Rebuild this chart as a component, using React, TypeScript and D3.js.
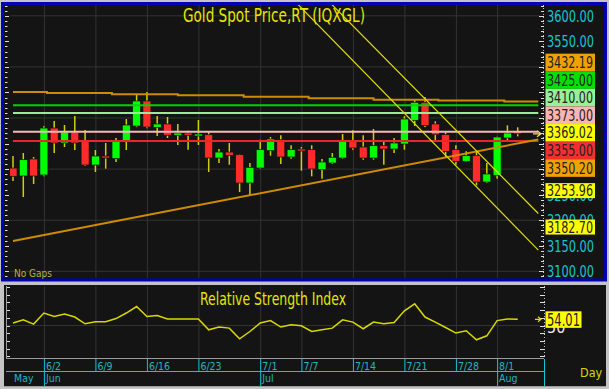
import React, { useEffect, useRef } from 'react';
import * as d3 from 'd3';

// trading days shown on the chart
const dates = [
  "5/28","5/29","5/30",
  "6/2","6/3","6/4","6/5","6/6",
  "6/9","6/10","6/11","6/12","6/13",
  "6/16","6/17","6/18","6/19","6/20",
  "6/23","6/24","6/25","6/26","6/27",
  "6/30","7/1","7/2","7/3","7/4",
  "7/7","7/8","7/9","7/10","7/11",
  "7/14","7/15","7/16","7/17","7/18",
  "7/21","7/22","7/23","7/24","7/25",
  "7/28","7/29","7/30","7/31","8/1",
  "8/4","8/5"
];

const opens = [3302.1,3286.5,3319.8,3288.5,3380.4,3351.1,3372.6,3355.0,3308.0,3325.6,
  3320.4,3355.0,3384.3,3433.3,3381.8,3388.3,3366.2,3370.6,3366.2,3367.3,
  3321.7,3333.4,3328.2,3272.8,3302.1,3336.0,3357.5,3323.7,3339.3,3338.0,
  3298.8,3311.9,3321.7,3355.6,3343.3,3321.7,3345.8,3339.3,3349.1,3395.5,
  3430.7,3388.3,3367.3,3338.0,3315.3,3326.2,3274.7,3287.9,3360.9,3373.2];
const highs = [3325.6,3331.5,3323.7,3383.8,3394.1,3386.3,3403.9,3376.5,3337.4,3351.1,
  3360.9,3398.0,3447.0,3450.9,3403.9,3402.0,3388.3,3375.1,3396.1,3372.6,
  3339.3,3351.1,3329.5,3311.9,3357.5,3362.8,3366.2,3346.6,3343.3,3346.6,
  3319.8,3331.5,3368.7,3375.9,3366.2,3378.5,3354.4,3360.9,3403.3,3437.2,
  3441.1,3393.5,3372.0,3346.6,3334.8,3334.8,3311.9,3364.0,3385.7,3381.8];
const lows = [3276.7,3245.4,3270.8,3286.0,3331.5,3343.3,3337.4,3306.1,3294.3,3300.8,
  3313.9,3337.4,3382.0,3380.0,3364.8,3360.9,3347.2,3338.0,3347.2,3294.3,
  3311.9,3308.6,3255.2,3247.4,3300.5,3326.2,3310.0,3320.4,3296.9,3285.9,
  3281.2,3310.0,3320.0,3338.0,3318.4,3318.4,3308.6,3331.5,3338.0,3384.3,
  3382.4,3354.4,3321.7,3308.6,3313.9,3268.3,3273.0,3281.2,3353.0,3364.1];
const closes = [3285.9,3318.4,3286.5,3380.4,3351.1,3372.6,3351.1,3308.0,3325.6,3321.7,
  3354.4,3386.3,3433.3,3382.4,3388.3,3366.2,3370.6,3366.2,3368.7,3321.7,
  3333.4,3327.0,3272.8,3303.5,3338.0,3358.9,3323.7,3338.0,3336.0,3300.2,
  3313.9,3323.1,3354.4,3341.3,3321.7,3345.8,3339.3,3351.1,3398.0,3430.7,
  3385.0,3367.3,3334.8,3315.3,3326.2,3274.7,3290.4,3362.8,3370.6,3369.02];

const rsi = [51.6,53.7,50.9,58.1,55.8,57.4,55.5,51.1,52.4,52.4,
  54.5,58.1,62.3,55.8,56.5,54.2,54.2,54.2,54.2,47.2,
  49.0,48.3,41.4,46.1,51.6,53.2,49.0,50.5,49.8,46.1,
  47.2,48.3,53.7,52.2,47.9,52.2,51.1,51.9,59.5,64.1,
  55.5,52.2,48.7,45.1,46.6,40.7,43.3,53.2,54.2,54.01];

const tickDates = ["6/2","6/9","6/16","6/23","7/1","7/7","7/14","7/21","7/28","8/1"];
const monthNames = ["May","Jun","Jul","Aug"];
const monthStarts = ["5/28","6/2","7/1","8/1"];

const priceLabels = [3600,3550,3500,3450,3400,3350,3300,3250,3200,3150,3100];
const rsiLabel = 50;

// stepped average line (bar position where each step starts)
const stepStarts = [0,3.3,9.6,16,22.4,28.7,35,41.3,47.7];
const stepValues = [3450.9,3448.9,3446.4,3444.4,3441.7,3438.5,3435.8,3434.2,3432.19];

const levelValues = [3425.00,3410.00,3373.00,3355.00];
const levelColors = ["#00d400","#98ec98","#f8b8b8","#e82828"];

const trendStart = 3159.3;
const trendEnd = 3350.20;
const channelEnds = [3182.70,3253.96];
const channelSlopes = [-20.6,-20.4];

const markValues = [3432.19,3425.00,3410.00,3373.00,3369.02,3355.00,3350.20,3253.96,3182.70];
const markColors = ["#f0a000","#00e000","#98f098","#ffb4b4","#ffff00","#f03030","#f0a000","#ffff00","#ffff00"];
const lastRsi = 54.01;

const FONT = "'Liberation Sans Narrow','Arial Narrow','DejaVu Sans Condensed','DejaVu Sans',sans-serif";

function App() {
  const ref = useRef(null);

  useEffect(() => {
    const svg = d3.select(ref.current);
    svg.selectAll("*").remove();

    const W = 609, H = 389;
    const last = dates.length - 1;
    const x = d3.scaleLinear().domain([0, last]).range([13, 13 + last * 10.3]);
    const y = d3.scaleLinear().domain([3100, 3600]).range([271.3, 15.8]);
    const yR = d3.scaleLinear().domain([30, 70]).range([356.3, 294.7]);
    const xEnd = last + 2;

    // frame
    svg.append("rect").attr("width", W).attr("height", H).attr("fill", "#c4c4c4");
    svg.append("rect").attr("x", 2.5).attr("y", 3.5).attr("width", 603).attr("height", 276.5)
      .attr("fill", "#141414").attr("stroke", "#0000b4").attr("stroke-width", 3);
    svg.append("rect").attr("x", 4).attr("y", 285).attr("width", 602).attr("height", 102).attr("fill", "#141414");

    const defs = svg.append("defs");
    defs.append("clipPath").attr("id", "plotclip").append("rect")
      .attr("x", 10).attr("y", 5).attr("width", 530).attr("height", 273);

    const main = svg.append("g");
    const idx = (d) => dates.indexOf(d);

    // grid
    main.selectAll(".hg").data([3600,3500,3400,3300,3200,3100]).enter().append("line")
      .attr("x1", 10).attr("x2", 540).attr("y1", d => y(d)).attr("y2", d => y(d))
      .attr("stroke", "#333").attr("stroke-width", 1);
    main.selectAll(".vg").data(tickDates).enter().append("line")
      .attr("x1", d => x(idx(d)) + 0.5).attr("x2", d => x(idx(d)) + 0.5).attr("y1", 5).attr("y2", 278)
      .attr("stroke", "#333").attr("stroke-width", 1);

    // left ticks
    const pticks = d3.range(3090, 3621, 10);
    main.selectAll(".lt").data(pticks).enter().append("line")
      .attr("x1", 5).attr("x2", d => d % 50 === 0 ? 9 : 7.5)
      .attr("y1", d => Math.round(y(d)) + 0.5).attr("y2", d => Math.round(y(d)) + 0.5)
      .attr("stroke", "#e0e0e0").attr("stroke-width", 1);
    // right axis
    main.append("line").attr("x1", 543.5).attr("x2", 543.5).attr("y1", 5).attr("y2", 278)
      .attr("stroke", "#bbb").attr("stroke-width", 1).attr("stroke-dasharray", "1,2");
    main.selectAll(".rt").data(pticks).enter().append("line")
      .attr("x1", d => d % 50 === 0 ? 539 : 541).attr("x2", 544)
      .attr("y1", d => Math.round(y(d)) + 0.5).attr("y2", d => Math.round(y(d)) + 0.5)
      .attr("stroke", "#e0e0e0").attr("stroke-width", 1);

    const plot = main.append("g").attr("clip-path", "url(#plotclip)");

    // candles
    const candles = plot.selectAll(".c").data(dates.map((d, i) => i)).enter().append("g");
    candles.append("line")
      .attr("x1", i => x(i)).attr("x2", i => x(i))
      .attr("y1", i => y(highs[i])).attr("y2", i => y(lows[i]))
      .attr("stroke", "#d0d000").attr("stroke-width", 1.5);
    candles.append("rect")
      .attr("x", i => x(i) - 4).attr("width", 8)
      .attr("y", i => y(Math.max(opens[i], closes[i])))
      .attr("height", i => Math.max(2, Math.abs(y(opens[i]) - y(closes[i]))))
      .attr("fill", i => closes[i] >= opens[i] ? "#00ff00" : "#ff2a2a")
      .attr("stroke", "#101010").attr("stroke-width", 0.7);

    // horizontal levels
    plot.selectAll(".lv").data(levelValues).enter().append("line")
      .attr("x1", x(0)).attr("x2", x(xEnd))
      .attr("y1", d => y(d)).attr("y2", d => y(d))
      .attr("stroke", (d, i) => levelColors[i]).attr("stroke-width", 2);

    // stepped average
    const stepPts = stepStarts.map((s, i) => [s, stepValues[i]]);
    stepPts.push([xEnd, stepValues[stepValues.length - 1]]);
    plot.append("path").datum(stepPts)
      .attr("d", d3.line().x(d => x(d[0])).y(d => y(d[1])).curve(d3.curveStepAfter))
      .attr("fill", "none").attr("stroke", "#d08c00").attr("stroke-width", 2);

    // rising trendline
    const tSlope = (trendEnd - trendStart) / last;
    plot.append("line")
      .attr("x1", x(0)).attr("y1", y(trendStart))
      .attr("x2", x(xEnd)).attr("y2", y(trendStart + tSlope * xEnd))
      .attr("stroke", "#d08c00").attr("stroke-width", 2);

    // falling channel
    channelEnds.forEach((v, k) => {
      const t0 = 20;
      plot.append("line")
        .attr("x1", x(t0)).attr("y1", y(v + channelSlopes[k] * (t0 - last)))
        .attr("x2", x(xEnd)).attr("y2", y(v + channelSlopes[k] * (xEnd - last)))
        .attr("stroke", "#dede00").attr("stroke-width", 1.2);
    });

    // last price arrow
    const ly = y(closes[last]);
    main.append("path").attr("d", `M533,${ly} L541,${ly} M537,${ly - 3} L541,${ly} L537,${ly + 3}`)
      .attr("fill", "none").attr("stroke", "#f0e060").attr("stroke-width", 1.2);

    // titles
    main.append("text").attr("x", 274).attr("y", 22).attr("text-anchor", "middle")
      .attr("font-family", FONT).attr("font-size", 19).attr("fill", "#e6e600")
      .attr("textLength", 182).attr("lengthAdjust", "spacingAndGlyphs")
      .text("Gold Spot Price,RT (IQXGL)");
    main.append("text").attr("x", 14).attr("y", 277)
      .attr("font-family", FONT).attr("font-size", 10).attr("fill", "#b4b438")
      .text("No Gaps");

    // marker labels, stacked when they collide
    const step = 17.6;
    const nudge = (n) => (n > 1 ? -9 : -2);
    const half = (n) => (n > 1 ? n * step / 2 : 7.5);
    let groups = markValues.map((v, i) => ({ items: [{ v, c: markColors[i], t: y(v) }], center: y(v) }));
    let merged = true;
    while (merged) {
      merged = false;
      for (let g = 0; g < groups.length - 1; g++) {
        const a = groups[g], b = groups[g + 1];
        const na = a.items.length, nb = b.items.length;
        if (a.center + nudge(na) + half(na) > b.center + nudge(nb) - half(nb)) {
          const all = a.items.concat(b.items);
          groups.splice(g, 2, { items: all, center: d3.mean(all, d => d.t) });
          merged = true;
          break;
        }
      }
    }
    const boxes = [];
    groups.forEach(g => {
      const n = g.items.length;
      if (n > 1) {
        const top = g.center + nudge(n) - half(n);
        g.items.forEach((d, k) => boxes.push({ ...d, top: top + k * step, h: step }));
      } else {
        boxes.push({ ...g.items[0], top: g.center + nudge(1) - half(1), h: 15 });
      }
    });

    // price axis labels (the ones fully hidden behind marker boxes are skipped)
    const covered = (v) => boxes.some(b => v > b.top && v < b.top + b.h);
    const visibleLabels = priceLabels.filter(p => {
      const c = y(p) + 1;
      return !(covered(c - 4) && covered(c) && covered(c + 4));
    });
    main.selectAll(".pl").data(visibleLabels).enter().append("text")
      .attr("x", 547).attr("y", d => y(d) + 1).attr("dominant-baseline", "central")
      .attr("font-family", FONT).attr("font-size", 15.5).attr("fill", "#18c4d4")
      .attr("textLength", 47).attr("lengthAdjust", "spacingAndGlyphs")
      .text(d => d.toFixed(2));

    const bx = main.selectAll(".mk").data(boxes).enter().append("g");
    bx.append("rect").attr("x", 545.5).attr("y", d => d.top).attr("width", 49.5).attr("height", d => d.h)
      .attr("fill", d => d.c);
    bx.append("text").attr("x", 547).attr("y", d => d.top + d.h / 2 + 0.5).attr("dominant-baseline", "central")
      .attr("font-family", FONT).attr("font-size", 15.5).attr("fill", "#222")
      .attr("textLength", 46).attr("lengthAdjust", "spacingAndGlyphs")
      .text(d => d.v.toFixed(2));

    // RSI pane
    const rp = svg.append("g");
    rp.append("line").attr("x1", 6.5).attr("x2", 6.5).attr("y1", 286).attr("y2", 358).attr("stroke", "#9a9a9a");
    rp.append("line").attr("x1", 6).attr("x2", 544).attr("y1", 358.5).attr("y2", 358.5).attr("stroke", "#9a9a9a");
    rp.append("line").attr("x1", 7).attr("x2", 540).attr("y1", yR(50)).attr("y2", yR(50)).attr("stroke", "#333");
    rp.selectAll(".vg").data(tickDates).enter().append("line")
      .attr("x1", d => x(idx(d)) + 0.5).attr("x2", d => x(idx(d)) + 0.5).attr("y1", 286).attr("y2", 358)
      .attr("stroke", "#333");
    const rticks = d3.range(30, 76, 5);
    rp.selectAll(".rl").data(rticks).enter().append("line")
      .attr("x1", 7).attr("x2", 10).attr("y1", d => Math.round(yR(d)) + 0.5).attr("y2", d => Math.round(yR(d)) + 0.5)
      .attr("stroke", "#e0e0e0");
    rp.append("line").attr("x1", 544.5).attr("x2", 544.5).attr("y1", 286).attr("y2", 358)
      .attr("stroke", "#bbb").attr("stroke-dasharray", "1,2");
    rp.selectAll(".rr").data(rticks).enter().append("line")
      .attr("x1", 540).attr("x2", 545).attr("y1", d => Math.round(yR(d)) + 0.5).attr("y2", d => Math.round(yR(d)) + 0.5)
      .attr("stroke", "#e0e0e0");

    rp.append("text").attr("x", 273).attr("y", 305).attr("text-anchor", "middle")
      .attr("font-family", FONT).attr("font-size", 18).attr("fill", "#e6e600")
      .attr("textLength", 146).attr("lengthAdjust", "spacingAndGlyphs")
      .text("Relative Strength Index");

    rp.append("path").datum(rsi)
      .attr("d", d3.line().x((d, i) => x(i)).y(d => yR(d)))
      .attr("fill", "none").attr("stroke", "#d8d800").attr("stroke-width", 1.5);

    rp.append("text").attr("x", 547).attr("y", yR(rsiLabel) + 1.5).attr("dominant-baseline", "central")
      .attr("font-family", FONT).attr("font-size", 16).attr("fill", "#e8e8e8").text(rsiLabel);
    const ry = yR(lastRsi);
    rp.append("path").attr("d", `M535,${ry} L541,${ry} M538,${ry - 2.5} L541,${ry} L538,${ry + 2.5}`)
      .attr("fill", "none").attr("stroke", "#e8d800").attr("stroke-width", 1.2);
    rp.append("rect").attr("x", 545.5).attr("y", ry - 8).attr("width", 36).attr("height", 16.5).attr("fill", "#ffff00");
    rp.append("text").attr("x", 547).attr("y", ry + 1).attr("dominant-baseline", "central")
      .attr("font-family", FONT).attr("font-size", 17).attr("fill", "#222")
      .attr("textLength", 33).attr("lengthAdjust", "spacingAndGlyphs")
      .text(lastRsi.toFixed(2));

    // date axis
    const ax = svg.append("g");
    const cyan = "#10c8d8";
    ax.append("line").attr("x1", 6).attr("x2", 544).attr("y1", 371.5).attr("y2", 371.5).attr("stroke", cyan);
    ax.append("line").attr("x1", 544.5).attr("x2", 544.5).attr("y1", 359).attr("y2", 386).attr("stroke", cyan);
    ax.append("line").attr("x1", 4).attr("x2", 606).attr("y1", 386.5).attr("y2", 386.5).attr("stroke", "#9a9a9a");
    ax.selectAll(".dt").data(tickDates).enter().append("line")
      .attr("x1", d => x(idx(d)) + 0.5).attr("x2", d => x(idx(d)) + 0.5)
      .attr("y1", 359).attr("y2", d => monthStarts.includes(d) ? 386 : 371)
      .attr("stroke", cyan);
    ax.selectAll(".dl").data(tickDates).enter().append("text")
      .attr("x", d => x(idx(d)) + 2).attr("y", 370)
      .attr("font-family", FONT).attr("font-size", 10.5).attr("fill", "#20b4c4")
      .text(d => d);
    ax.selectAll(".ml").data(monthNames).enter().append("text")
      .attr("x", (d, i) => x(idx(monthStarts[i])) + (i === 0 ? 1 : 2)).attr("y", 382)
      .attr("font-family", FONT).attr("font-size", 10.5).attr("fill", "#20b4c4")
      .text(d => d);
    ax.append("text").attr("x", 580).attr("y", 377)
      .attr("font-family", FONT).attr("font-size", 12.5).attr("fill", "#d8d800")
      .text("Day");
  }, []);

  return <svg ref={ref} width={609} height={389} style={{ position: "fixed", left: 0, top: 0, display: "block" }} />;
}

export default App;
